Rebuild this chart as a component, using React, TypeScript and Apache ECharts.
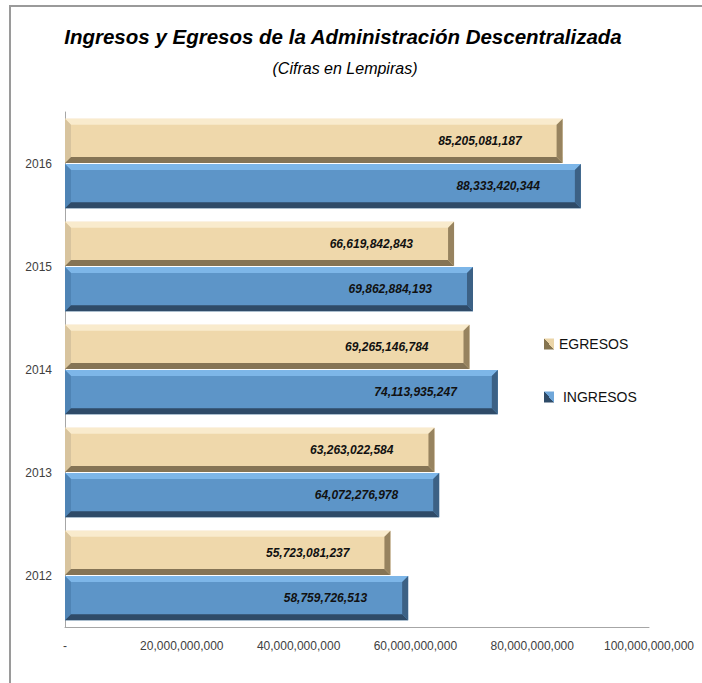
import React, { useEffect, useRef } from "react";
import * as echarts from "echarts";

const CATEGORIES = ["2012", "2013", "2014", "2015", "2016"];
const INGRESOS = [58759726513, 64072276978, 74113935247, 69862884193, 88333420344];
const EGRESOS = [55723081237, 63263022584, 69265146784, 66619842843, 85205081187];
const X_TICKS = [0, 20000000000, 40000000000, 60000000000, 80000000000, 100000000000];

const FONT = "'Liberation Sans', Arial, sans-serif";

const PALETTE: Record<string, any> = {
  EGRESOS: { main: "#EFD8AB", top: "#F9EBCD", left: "#D8C49E", bottom: "#857455", right: "#97835F", legendA: "#EBD5A8", legendB: "#85744F" },
  INGRESOS: { main: "#5D95C8", top: "#7DB6E8", left: "#4F84B5", bottom: "#2F4B68", right: "#3C6185", legendA: "#6FA7DA", legendB: "#2F4B68" },
};

function legendColor(name: string) {
  const c = PALETTE[name];
  return new echarts.graphic.LinearGradient(1, 0, 0, 1, [
    { offset: 0, color: c.legendA },
    { offset: 0.5, color: c.legendA },
    { offset: 0.5, color: c.legendB },
    { offset: 1, color: c.legendB },
  ]);
}

function makeRender(name: string, sideSign: number) {
  const c = PALETTE[name];
  return (params: any, api: any) => {
    const val = api.value(0);
    const cat = api.value(1);
    const p0 = api.coord([0, cat]);
    const p1 = api.coord([val, cat]);
    const h = api.size([0, 1])[1];
    const cy = p0[1];
    let y0: number, y1: number;
    if (sideSign < 0) {
      y0 = cy - 0.435 * h;
      y1 = cy - 0.005 * h;
    } else {
      y0 = cy + 0.005 * h;
      y1 = cy + 0.435 * h;
    }
    const x0 = p0[0];
    const x1 = p1[0];
    const b = 6;
    const label = Math.round(val).toLocaleString("en-US");
    return {
      type: "group",
      children: [
        { type: "rect", shape: { x: x0, y: y0, width: x1 - x0, height: y1 - y0 }, style: { fill: c.main } },
        { type: "polygon", shape: { points: [[x0, y0], [x1, y0], [x1 - b, y0 + b], [x0 + b, y0 + b]] }, style: { fill: c.top } },
        { type: "polygon", shape: { points: [[x0, y0], [x0 + b, y0 + b], [x0 + b, y1 - b], [x0, y1]] }, style: { fill: c.left } },
        { type: "polygon", shape: { points: [[x0, y1], [x1, y1], [x1 - b, y1 - b], [x0 + b, y1 - b]] }, style: { fill: c.bottom } },
        { type: "polygon", shape: { points: [[x1, y0], [x1 - b, y0 + b], [x1 - b, y1 - b], [x1, y1]] }, style: { fill: c.right } },
        {
          type: "text",
          z2: 10,
          style: {
            text: label,
            x: x1 - 41,
            y: (y0 + y1) / 2,
            align: "right",
            verticalAlign: "middle",
            fill: "#111",
            font: `italic bold 12px ${FONT}`,
          },
        },
      ],
    };
  };
}

export default function App() {
  const ref = useRef<HTMLDivElement>(null);
  useEffect(() => {
    if (!ref.current) return;
    const chart = echarts.init(ref.current, null, { renderer: "svg" });
    const option: any = {
      animation: false,
      backgroundColor: "#ffffff",
      grid: { left: 65, right: 53, top: 112, bottom: 56, containLabel: false },
      xAxis: {
        type: "value",
        min: X_TICKS[0],
        max: X_TICKS[X_TICKS.length - 1],
        interval: X_TICKS[1] - X_TICKS[0],
        splitLine: { show: false },
        axisTick: { show: false },
        axisLine: { show: true, lineStyle: { color: "#A6A6A6", width: 1 } },
        axisLabel: {
          margin: 13,
          color: "#404040",
          fontFamily: FONT,
          fontSize: 12,
          formatter: (v: number) => (v === 0 ? "-" : v.toLocaleString("en-US")),
        },
      },
      yAxis: {
        type: "category",
        data: CATEGORIES,
        axisTick: { show: false },
        axisLine: { show: true, lineStyle: { color: "#A6A6A6", width: 1 } },
        axisLabel: { margin: 13, color: "#404040", fontFamily: FONT, fontSize: 12 },
      },
      legend: {
        orient: "vertical",
        left: 539,
        top: 332,
        itemWidth: 10,
        itemHeight: 11,
        itemGap: 39,
        icon: "rect",
        textStyle: { fontFamily: FONT, fontSize: 14, color: "#111" },
        formatter: (n: string) => (n === "INGRESOS" ? " " + n : n),
        data: [
          { name: "EGRESOS", itemStyle: { color: legendColor("EGRESOS") } },
          { name: "INGRESOS", itemStyle: { color: legendColor("INGRESOS") } },
        ],
      },
      graphic: [
        { type: "line", shape: { x1: 10, y1: 6, x2: 10, y2: 683 }, style: { stroke: "#9A9A9A", lineWidth: 2 } },
        { type: "line", shape: { x1: 9, y1: 6, x2: 702, y2: 6 }, style: { stroke: "#9A9A9A", lineWidth: 2 } },
        {
          type: "text",
          x: 343,
          y: 36,
          style: {
            text: "Ingresos y Egresos de la Administración Descentralizada",
            align: "center",
            verticalAlign: "middle",
            fill: "#000",
            font: `italic bold 20.5px ${FONT}`,
          },
        },
        {
          type: "text",
          x: 345,
          y: 68,
          style: {
            text: "(Cifras en Lempiras)",
            align: "center",
            verticalAlign: "middle",
            fill: "#000",
            font: `italic 16px ${FONT}`,
          },
        },
      ],
      series: [
        {
          name: "EGRESOS",
          type: "custom",
          itemStyle: { color: "#B8A27A" },
          encode: { x: 0, y: 1 },
          data: EGRESOS.map((v, i) => [v, i]),
          renderItem: makeRender("EGRESOS", -1),
        },
        {
          name: "INGRESOS",
          type: "custom",
          itemStyle: { color: "#4A7EB0" },
          encode: { x: 0, y: 1 },
          data: INGRESOS.map((v, i) => [v, i]),
          renderItem: makeRender("INGRESOS", 1),
        },
      ],
    };
    chart.setOption(option);
    return () => chart.dispose();
  }, []);
  return (
    <div
      ref={ref}
      style={{ position: "absolute", left: 0, top: 0, width: 702, height: 683, background: "#fff" }}
    />
  );
}
